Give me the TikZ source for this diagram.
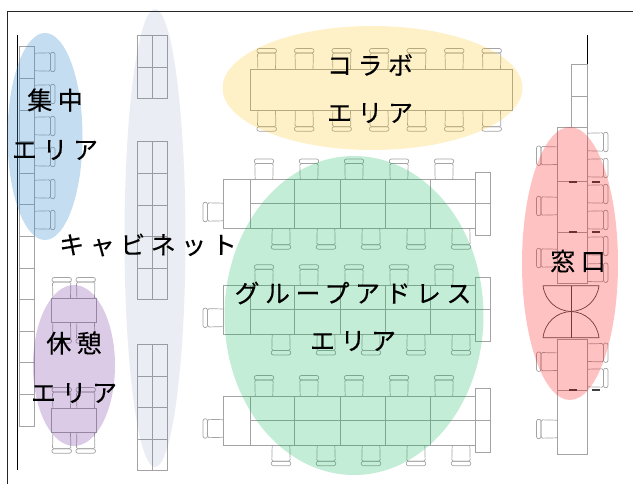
\documentclass[tikz,border=0pt]{standalone}
\usepackage{fontspec}
\usepackage{tikz}
\newfontfamily\jpfont[LetterSpace=22,FakeBold=0.25]{Noto Sans CJK JP}
\tikzset{
  furniture/.style={draw=black!36, line width=0.7pt},
  wall/.style={draw=black, line width=0.9pt},
  spot/.style={line width=0pt, fill opacity=#1},
  arealabel/.style={font=\jpfont\fontsize{25}{25}\selectfont, inner sep=0pt, text=black},
  slit/.style={draw=black!75, line width=1.7pt},
  chair/.pic={
    \draw [furniture, rounded corners=1.5pt] (0,-8.8) -- (16,-9.2) -- (16,9.2) -- (0,8.8);
    \draw [furniture, rounded corners=2.2pt] (16,-9.8) rectangle (20.5,9.8);
  }
}
\definecolor{spotblue}{HTML}{3A8ED0}
\definecolor{spotgrey}{HTML}{44649A}
\definecolor{spotyellow}{HTML}{FFC000}
\definecolor{spotgreen}{HTML}{00B050}
\definecolor{spotpurple}{HTML}{7030A0}
\definecolor{spotred}{HTML}{FF0000}
\begin{document}
\begin{tikzpicture}[x=1pt,y=-1pt]
  \useasboundingbox (0,0) rectangle (633,484);
  \draw [line width=0.9pt, draw=black!85] (7,484) -- (7,11.5) -- (633,11.5);
  \draw [wall] (17.5,35) -- (17.5,470);
  \draw [wall] (587,35) -- (587,127);

  \foreach \y in {46.7,78.3,...,425} \draw [furniture] (19,\y) rectangle (34,\y+31.6);
  \foreach \y in {62,94,126,157,189,220} \pic [rotate=0] at (34.5,\y) {chair};

  \foreach \ya/\yb in {35/98.5,141/299,344/470} {
    \draw [furniture] (137.3,\ya) rectangle (167.7,\yb);
    \draw [furniture] (152.5,\ya) -- (152.5,\yb);
  }
  \foreach \y in {67,173,205,236,268,376,407,439} \draw [furniture] (137.3,\y) -- (167.7,\y);

  \foreach \y in {298,408} {
    \draw [furniture] (51,\y) rectangle (96.7,\y+24.8);
    \foreach \x in {61.7,85.7} {
      \pic [rotate=90] at (\x,\y) {chair};
      \pic [rotate=-90] at (\x,\y+24.8) {chair};
    }
  }

  \draw [furniture] (250,69) rectangle (512.7,110.7);
  \foreach \x in {266.7,304.2,341.7,379.2,416.7,454.2,491.7} {
    \pic [rotate=90] at (\x,69) {chair};
    \pic [rotate=-90] at (\x,110.7) {chair};
  }

  \foreach \dy in {0,105.8,216.5} {
    \begin{scope}[yshift=-\dy pt]
      \draw [furniture] (223.5,179.5) rectangle (475,228.7);
      \draw [furniture] (475,172) rectangle (490,235.7);
      \draw [furniture] (250,203.5) -- (490,203.5);
      \foreach \x in {250,294.5,340,385,430.5} \draw [furniture] (\x,179.5) -- (\x,228.7);
      \pic [rotate=180] at (223.5,212) {chair};
      \foreach \x in {264,309,354,399,444} \pic [rotate=90] at (\x,179.5) {chair};
      \foreach \x in {281,326,371,416,461} \pic [rotate=-90] at (\x,228.7) {chair};
    \end{scope}
  }

  \draw [furniture] (571.7,64) rectangle (587,127);
  \draw [furniture] (571.7,96) -- (587,96);
  \draw [furniture] (557.3,127) rectangle (587.3,283.3);
  \draw [furniture] (557.3,339.3) rectangle (587.3,454.3);
  \foreach \y in {181.7,232.3,390.3} {
    \draw [furniture] (557.3,\y) -- (587.3,\y);
    \draw [slit] (569,\y) -- (577,\y);
    \draw [slit] (592,\y) -- (600,\y);
  }
  \foreach \y in {142,168,194,220,246,272.7,352.7,378} \pic [rotate=0] at (587.5,\y) {chair};
  \foreach \y in {155.7,206,258,361.7,429} \pic [rotate=180] at (557,\y) {chair};
  \draw [furniture, draw=black!70] (543,285.7) -- (599,285.7) .. controls (597,301) and (585,311) .. (571,311.5) .. controls (557,311) and (545,301) .. (543,285.7);
  \draw [furniture, draw=black!70] (543,337.7) -- (599,337.7) .. controls (597,322) and (585,312) .. (571,311.5) .. controls (557,312) and (545,322) .. (543,337.7);
  \draw [furniture, draw=black!70] (571.5,285.7) -- (571.5,337.7);

  \fill [spot=0.3, spotblue] (45,136.5) ellipse [x radius=37.5, y radius=103.5];
  \fill [spot=0.11, spotgrey] (155,238) ellipse [x radius=30.5, y radius=229];
  \fill [spot=0.25, spotpurple] (74,365.5) ellipse [x radius=41, y radius=80.5];
  \fill [spot=0.22, spotyellow] (372.5,88) ellipse [x radius=150, y radius=62];
  \fill [spot=0.23, spotgreen] (354,315.5) ellipse [x radius=129.5, y radius=159.5];
  \fill [spot=0.24, spotred] (570,263.5) ellipse [x radius=48, y radius=136.5];

  \node [arealabel] (focus) at (55,100) {集中};
  \node [arealabel] (focusarea) at (55,150) {エリア};
  \node [arealabel] (cabinet) at (148,245) {キャビネット};
  \node [arealabel] (collab) at (370,65) {コラボ};
  \node [arealabel] (collabarea) at (370,113) {エリア};
  \node [arealabel] (group) at (353,293) {グループアドレス};
  \node [arealabel] (grouparea) at (353,341) {エリア};
  \node [arealabel] (counter) at (578,261) {窓口};
  \node [arealabel] (rest) at (74,343) {休憩};
  \node [arealabel] (restarea) at (74,393) {エリア};
\end{tikzpicture}
\end{document}
